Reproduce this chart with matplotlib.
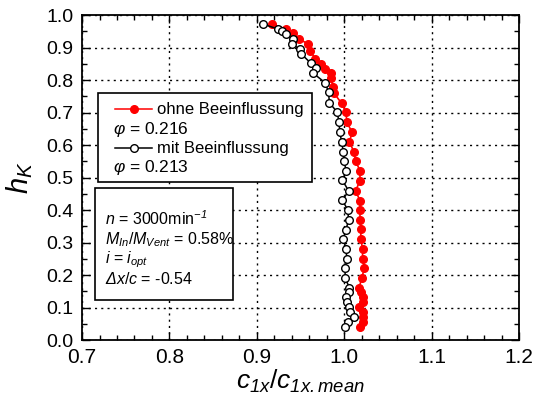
import matplotlib
matplotlib.use('Agg')
import matplotlib.pyplot as plt
from matplotlib.lines import Line2D
from matplotlib.patches import Rectangle
from matplotlib.ticker import MultipleLocator

plt.rcParams['font.family'] = ['Liberation Sans', 'DejaVu Sans']
plt.rcParams['mathtext.fontset'] = 'custom'
# everything inside $...$ is italic in the original (incl. digits, Delta)
plt.rcParams['mathtext.rm'] = 'Liberation Sans:italic'
plt.rcParams['mathtext.it'] = 'Liberation Sans:italic'
plt.rcParams['mathtext.bf'] = 'Liberation Sans:bold'

# ohne Beeinflussung (red, filled)
c_ohne = [0.917, 0.933, 0.941, 0.948, 0.959, 0.961, 0.967, 0.973, 0.978, 0.985,
          0.985, 0.987, 0.988, 0.997, 1.002, 1.003, 1.009, 1.006, 1.011, 1.013,
          1.018, 1.018, 1.013, 1.018, 1.018, 1.018, 1.019, 1.019, 1.021, 1.021,
          1.023, 1.020, 1.017, 1.019, 1.021, 1.021, 1.017, 1.022, 1.022, 1.022,
          1.018]
h_ohne = [0.972, 0.957, 0.944, 0.926, 0.911, 0.890, 0.865, 0.849, 0.834, 0.822,
          0.805, 0.779, 0.761, 0.728, 0.701, 0.670, 0.639, 0.610, 0.579, 0.551,
          0.521, 0.490, 0.459, 0.429, 0.400, 0.369, 0.341, 0.310, 0.280, 0.249,
          0.221, 0.190, 0.161, 0.147, 0.131, 0.118, 0.103, 0.087, 0.072, 0.056,
          0.041]

# mit Beeinflussung (black, open)
c_mit = [0.907, 0.924, 0.929, 0.933, 0.941, 0.940, 0.949, 0.951, 0.962, 0.968,
         0.964, 0.978, 0.982, 0.983, 0.992, 0.994, 0.995, 0.997, 0.999, 1.000,
         1.002, 0.998, 1.005, 0.998, 1.004, 1.005, 1.002, 0.999, 1.002, 1.003,
         1.001, 1.001, 1.006, 1.005, 1.002, 1.003, 1.005, 1.007, 1.011, 1.004,
         1.001]
h_mit = [0.972, 0.957, 0.952, 0.941, 0.926, 0.911, 0.895, 0.880, 0.851, 0.836,
         0.822, 0.792, 0.764, 0.730, 0.701, 0.670, 0.639, 0.610, 0.579, 0.551,
         0.521, 0.491, 0.459, 0.430, 0.400, 0.369, 0.340, 0.312, 0.280, 0.249,
         0.221, 0.190, 0.161, 0.147, 0.131, 0.118, 0.103, 0.087, 0.072, 0.056,
         0.041]

legend_labels = ['ohne Beeinflussung', 'mit Beeinflussung']
phi_labels = [r'$\varphi$ = 0.216', r'$\varphi$ = 0.213']
info_lines = [r'$n$ = 3000min$^{-1}$',
              r'$M_{In}$/$M_{Vent}$ = 0.58%',
              r'$i$ = $i_{opt}$',
              r'$\Delta x$/$c$ = -0.54']

fig = plt.figure(figsize=(5.34, 3.98), dpi=100)
ax = fig.add_axes([0.1536, 0.1457, 0.8184, 0.8166])

ax.plot(c_ohne, h_ohne, '-o', color='red', lw=1.2, ms=5.5, mfc='red', mec='red', zorder=3)
ax.plot(c_mit, h_mit, '-o', color='black', lw=1.1, ms=5.5, mfc='white', mec='black',
        mew=1.0, zorder=4)

ax.set_xlim(0.7, 1.2)
ax.set_ylim(0.0, 1.0)
ax.xaxis.set_major_locator(MultipleLocator(0.1))
ax.xaxis.set_minor_locator(MultipleLocator(0.02))
ax.yaxis.set_major_locator(MultipleLocator(0.1))
ax.yaxis.set_minor_locator(MultipleLocator(0.05))
ax.xaxis.set_major_formatter(plt.FormatStrFormatter('%.1f'))
ax.yaxis.set_major_formatter(plt.FormatStrFormatter('%.1f'))
ax.tick_params(which='both', direction='in', top=True, right=True, width=1.0)
ax.tick_params(which='major', length=6)
ax.tick_params(which='minor', length=3.5)
ax.tick_params(axis='x', pad=6, labelsize=15)
ax.tick_params(axis='y', pad=6, labelsize=14)
ax.grid(True, which='major', linestyle=(0, (1.5, 3)), color='black', lw=1.0)
for s in ax.spines.values():
    s.set_linewidth(1.3)

ax.set_xlabel(r'$c_{1x}$/$c_{1x.mean}$', fontsize=19, labelpad=0)
ax.set_ylabel(r'$h_K$', fontsize=21, labelpad=8)

# legend box
ax.add_patch(Rectangle((0.037, 0.486), 0.489, 0.274, transform=ax.transAxes,
                       facecolor='white', edgecolor='black', lw=1.2, zorder=5))
for y, col, mfc, lab in [(0.710, 'red', 'red', legend_labels[0]),
                         (0.590, 'black', 'white', legend_labels[1])]:
    ax.add_line(Line2D([0.0755, 0.160], [y, y], transform=ax.transAxes, color=col,
                       lw=1.1, zorder=6))
    ax.add_line(Line2D([0.119], [y], transform=ax.transAxes, marker='o', ms=5.5,
                       color=col, mfc=mfc, mec=col, zorder=7))
    ax.text(0.171, y, lab, transform=ax.transAxes, fontsize=12, va='center', zorder=7)
for y, lab in [(0.648, phi_labels[0]), (0.530, phi_labels[1])]:
    ax.text(0.071, y, lab, transform=ax.transAxes, fontsize=12.5, va='center', zorder=7)

# info box
ax.add_patch(Rectangle((0.030, 0.123), 0.316, 0.345, transform=ax.transAxes,
                       facecolor='white', edgecolor='black', lw=1.2, zorder=5))
for y, lab in zip([0.372, 0.310, 0.248, 0.187], info_lines):
    ax.text(0.053, y, lab, transform=ax.transAxes, fontsize=11.5, va='center', zorder=7)

fig.savefig('out.png', dpi=100)
